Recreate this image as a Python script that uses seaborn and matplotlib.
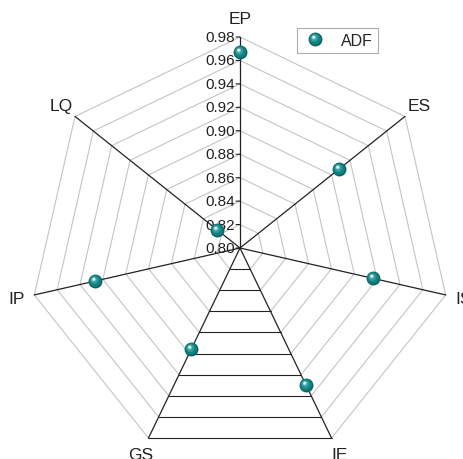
import numpy as np
import pandas as pd
import matplotlib
matplotlib.use("Agg")
import matplotlib.pyplot as plt
import seaborn as sns
from matplotlib.path import Path
from matplotlib.lines import Line2D
from matplotlib.transforms import offset_copy

# ---- data ----
dimensions = ["EP", "ES", "IS", "IE", "GS", "IP", "LQ"]
adf_values = [0.967, 0.908, 0.916, 0.930, 0.896, 0.927, 0.825]
r_ticks = [0.80, 0.82, 0.84, 0.86, 0.88, 0.90, 0.92, 0.94, 0.96, 0.98]
tick_labels = ["0.80", "0.82", "0.84", "0.86", "0.88", "0.90", "0.92", "0.94", "0.96", "0.98"]
series_name = "ADF"

sns.set_theme(style="white")
plt.rcParams["font.family"] = ["Liberation Sans", "DejaVu Sans"]

n = len(dimensions)
theta = np.arange(n) * 2 * np.pi / n
df = pd.DataFrame({"dimension": dimensions, "theta": theta, "value": adf_values})

fig = plt.figure(figsize=(4.64, 4.60), dpi=100)
ax = fig.add_axes([29 / 464, 0.0, 422 / 464, 422 / 460], projection="polar")
ax.set_theta_zero_location("N")
ax.set_theta_direction(-1)
ax.set_ylim(r_ticks[0], r_ticks[-1])
ax.grid(False)
ax.spines["polar"].set_visible(False)
ax.set_xticks([])
ax.set_yticks([])
ax.patch.set_alpha(0)

# polygon grid: one segment per sector and ring
dark_sector = 3  # IE -> GS
for i in range(n):
    j = (i + 1) % n
    col = "#222222" if i == dark_sector else "#c4c4c4"
    for r in r_ticks[1:]:
        ax.plot([theta[i], theta[j]], [r, r], color=col, lw=0.8, zorder=1,
                clip_on=False)

# spokes
for t in theta:
    ax.plot([t, t], [r_ticks[0], r_ticks[-1]], color="#222222", lw=0.9, zorder=2,
            clip_on=False)

# radial tick labels on the EP spoke
for r, lab in zip(r_ticks, tick_labels):
    ax.text(0, r, lab, transform=offset_copy(ax.transData, fig=fig, x=-5, y=0, units="dots"),
            ha="right", va="center", fontsize=11, color="#222222", zorder=3)
    ax.annotate("", xy=(0, r), xytext=(-4, 0), textcoords="offset pixels",
                arrowprops=dict(arrowstyle="-", color="#222222", lw=0.8,
                                shrinkA=0, shrinkB=0))

# dimension labels
for t, name in zip(theta, dimensions):
    dx = 229 * np.sin(t)
    dy = 229 * np.cos(t)
    ax.annotate(name, xy=(t, r_ticks[0]), xytext=(dx, dy), textcoords="offset pixels",
                ha="center", va="center", fontsize=12.5, color="#222222",
                annotation_clip=False)


def shifted_disc(cx, cy, rad):
    """Circle marker path offset from the marker centre, with fixed scale."""
    c = Path.circle(center=(cx, cy), radius=rad)
    verts = np.vstack([c.vertices, [[0.5, 0.5], [-0.5, -0.5]]])
    codes = np.concatenate([c.codes, [Path.MOVETO, Path.MOVETO]])
    return Path(verts, codes)


sphere_layers = [
    ("o", "#0a6465", 1.0),
    (shifted_disc(-0.03, 0.04, 0.42), "#138080", 1.0),
    (shifted_disc(-0.08, 0.10, 0.28), "#2f9c9b", 1.0),
    (shifted_disc(-0.12, 0.15, 0.15), "#8fd0cf", 1.0),
    (shifted_disc(-0.13, 0.17, 0.08), "#f4fbfb", 1.0),
]
msize = 10  # marker diameter in points

for k, (mk, col, a) in enumerate(sphere_layers):
    sns.scatterplot(data=df, x="theta", y="value", ax=ax, marker=mk, color=col,
                    s=msize ** 2, linewidth=0, alpha=a, zorder=5 + k,
                    legend=False, clip_on=False)

handle = tuple(Line2D([], [], linestyle="none", marker=mk, color=col,
                      markersize=msize, markeredgewidth=0)
               for mk, col, a in sphere_layers)
leg = fig.legend([handle], [series_name], loc="upper left",
                 bbox_to_anchor=(297 / 464, 1 - 29 / 460), fontsize=11.5,
                 frameon=True, fancybox=False, borderpad=0.3, handlelength=1.6,
                 handletextpad=0.85, borderaxespad=0)
leg.get_frame().set_edgecolor("#9a9a9a")
leg.get_frame().set_linewidth(0.8)

fig.savefig("out.png", dpi=100)
